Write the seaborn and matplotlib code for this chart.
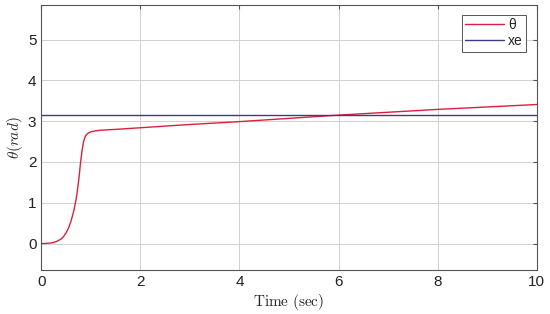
import numpy as np
import seaborn as sns
import pandas as pd
import matplotlib.pyplot as plt

# values
time = [0, 0.1, 0.2, 0.3, 0.4, 0.45, 0.5, 0.55, 0.6, 0.65, 0.7, 0.73, 0.76,
        0.79, 0.82, 0.85, 0.88, 0.91, 0.95, 1.0, 1.1, 1.2, 1.5, 2, 3, 4, 5,
        6, 7, 8, 9, 10]
theta = [0, 0.003, 0.015, 0.045, 0.11, 0.17, 0.26, 0.38, 0.55, 0.77, 1.06,
         1.3, 1.6, 1.95, 2.25, 2.48, 2.6, 2.67, 2.71, 2.74, 2.765, 2.78, 2.8,
         2.84, 2.92, 2.99, 3.07, 3.15, 3.22, 3.29, 3.35, 3.41]
xe_value = 3.1416
xe = [xe_value, xe_value]
xe_time = [0, 10]

df = pd.DataFrame({'t': time, 'theta': theta})
xe_df = pd.DataFrame({'t': xe_time, 'xe': xe})

sns.set_style('whitegrid')
plt.rcParams['mathtext.fontset'] = 'cm'
plt.rcParams['font.family'] = ['Liberation Sans', 'DejaVu Sans']

fig, ax = plt.subplots(figsize=(5.5, 3.14), dpi=100)
sns.lineplot(data=df, x='t', y='theta', ax=ax, color='#d9213f', lw=1.0, label='θ')
sns.lineplot(data=xe_df, x='t', y='xe', ax=ax, color='#3b3b8c', lw=1.0, label='xe')

ax.set_xlim(0, 10)
ax.set_ylim(-0.65, 5.85)
ax.set_xticks(range(0, 11, 2))
ax.set_yticks(range(0, 6))
ax.grid(True, color='#d0d0d0', lw=0.7)
for s in ax.spines.values():
    s.set_color('#555555')
    s.set_linewidth(0.8)
ax.tick_params(direction='in', length=3, color='#555555', labelsize=11,
               top=True, right=True, labelcolor='#222222')
ax.set_xlabel(r'$\mathrm{Time\ (sec)}$', fontsize=11, labelpad=2)
ax.set_ylabel(r'$\theta(rad)$', fontsize=11, labelpad=2)
leg = ax.legend(loc='upper right', fontsize=10, frameon=True, fancybox=False,
                edgecolor='#555555', framealpha=1, borderpad=0.25,
                handlelength=2.8, handletextpad=0.3, labelspacing=0.15,
                bbox_to_anchor=(0.993, 0.99))
leg.get_frame().set_linewidth(0.7)

fig.subplots_adjust(left=0.075, right=0.976, top=0.984, bottom=0.14)
plt.savefig('out.png')
